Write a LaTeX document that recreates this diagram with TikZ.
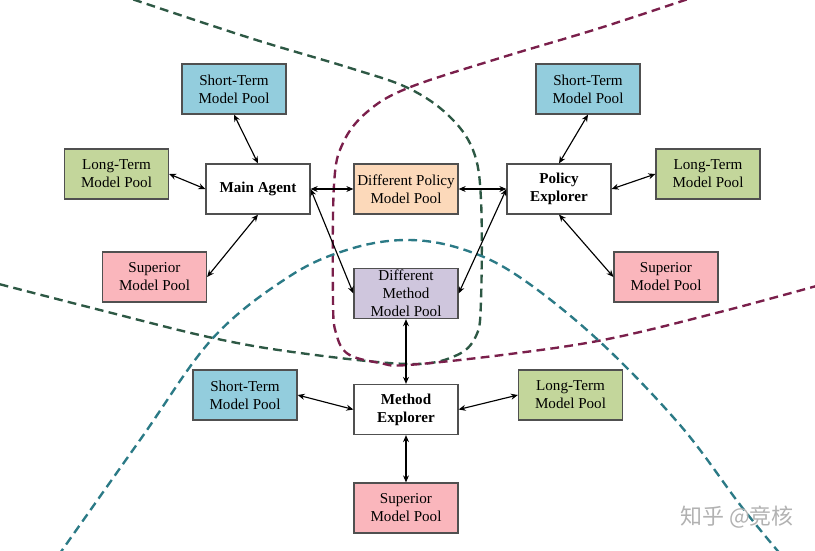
\documentclass[tikz,border=0pt]{standalone}
\usepackage{fontspec}
\setmainfont{Liberation Serif}
\newfontfamily\cjkfont{Noto Sans CJK SC}
\usetikzlibrary{arrows.meta}

\definecolor{stblue}{RGB}{147,205,221}
\definecolor{ltgreen}{RGB}{195,214,155}
\definecolor{suppink}{RGB}{250,182,188}
\definecolor{polpeach}{RGB}{252,217,186}
\definecolor{metlilac}{RGB}{207,198,221}
\definecolor{boxgray}{RGB}{80,80,80}
\definecolor{greenline}{RGB}{45,88,68}
\definecolor{maroonline}{RGB}{122,31,75}
\definecolor{tealline}{RGB}{43,122,134}

\tikzset{
  pool/.style={draw=boxgray, line width=0.7pt, minimum width=2.08cm, minimum height=1cm,
    align=center, inner sep=1pt, font=\fontsize{8.6}{10.2}\selectfont},
  agent/.style={pool, fill=white, font=\fontsize{8.6}{10.2}\selectfont\bfseries},
  link/.style={{Stealth[length=4pt,width=3.4pt]}-{Stealth[length=4pt,width=3.4pt]}, line width=0.65pt},
  region/.style={line width=1.35pt, dash pattern=on 5pt off 3pt}
}

\begin{document}
\begin{tikzpicture}[x=0.02cm, y=-0.02cm]
    \useasboundingbox (0,0) rectangle (815,551);

    % --- Dashed region borders ---
    \begin{scope}
        \clip (0,0) rectangle (815,551);
        \draw[region, greenline] plot[smooth, tension=0.6] coordinates {(120,-5) (250,38) (350,68) (408,88) (448,115) (473,150) (481,200) (481,300) (476,336) (455,356) (408,364) (300,353) (213,338) (100,310) (-5,283)};
        \draw[region, maroonline] plot[smooth, tension=0.6] coordinates {(700,-5) (600,28) (500,58) (408,88) (367,112) (343,143) (334,185) (333,300) (336,333) (348,354) (380,363) (408,365) (510,354) (608,339) (720,312) (820,285)};
        \draw[region, tealline] plot[smooth, tension=0.6] coordinates {(58,556) (140,440) (213,338) (290,276) (350,249) (407,240) (462,249) (518,276) (598,340) (680,425) (741,506) (782,556)};
    \end{scope}

    % --- Main Agent ---
    \node[agent] (ma) at (258,189) {Main Agent};
    \node[pool, fill=stblue] (sta) at (234,89) {Short-Term\\Model Pool};
    \node[pool, fill=ltgreen] (lta) at (116.5,174) {Long-Term\\Model Pool};
    \node[pool, fill=suppink] (supa) at (154.5,277) {Superior\\Model Pool};

    % --- Shared pools ---
    \node[pool, fill=polpeach] (dp) at (406,189) {Different Policy\\Model Pool};
    \node[pool, fill=metlilac] (dm) at (406,293.5) {Different\\Method\\Model Pool};

    % --- Policy Explorer ---
    \node[agent] (pe) at (559,189) {Policy\\Explorer};
    \node[pool, fill=stblue] (stb) at (588,89) {Short-Term\\Model Pool};
    \node[pool, fill=ltgreen] (ltb) at (708,174) {Long-Term\\Model Pool};
    \node[pool, fill=suppink] (supb) at (666,277) {Superior\\Model Pool};

    % --- Method Explorer ---
    \node[agent] (me) at (406,409.5) {Method\\Explorer};
    \node[pool, fill=stblue] (stc) at (245,395) {Short-Term\\Model Pool};
    \node[pool, fill=ltgreen] (ltc) at (570.5,395) {Long-Term\\Model Pool};
    \node[pool, fill=suppink] (supc) at (406,508) {Superior\\Model Pool};

    % Links
    \foreach \a/\b in {sta.south/ma.north, lta.east/ma.west, supa.east/ma.south,
                       ma.east/dp.west, ma.east/dm.west, dp.east/pe.west, pe.west/dm.east,
                       pe.north/stb.south, pe.east/ltb.west, pe.south/supb.west,
                       dm.south/me.north, me.west/stc.east, me.east/ltc.west, me.south/supc.north}
        \draw[link] (\a) -- (\b);

    % Watermark
    \node[text=black!30, font=\cjkfont\fontsize{12.5}{14}\selectfont] (mark) at (737,517) {知乎 @竞核};
\end{tikzpicture}
\end{document}
